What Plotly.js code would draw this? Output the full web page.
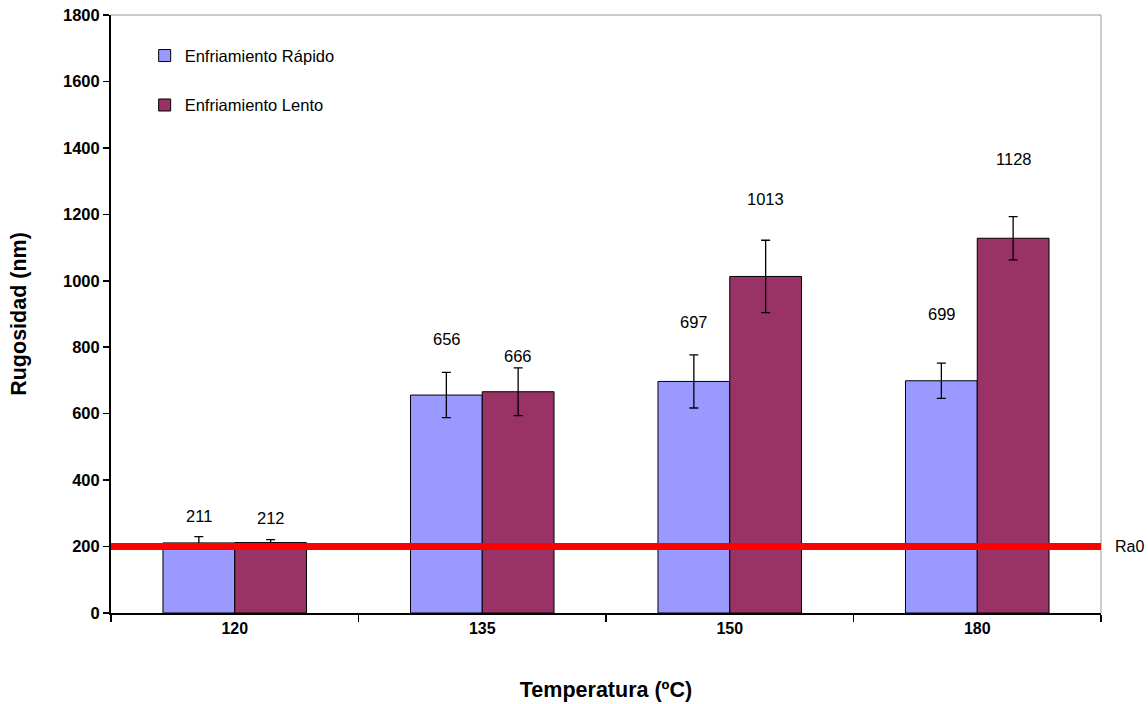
<!DOCTYPE html>
<html>
<head>
<meta charset="utf-8">
<script src="https://cdn.plot.ly/plotly-3.0.1.min.js"></script>
<style>html,body{margin:0;padding:0;background:#fff;}#chart{width:1148px;height:704px;}</style>
</head>
<body>
<div id="chart"></div>
<script>
const categories = ['120', '135', '150', '180'];
const seriesNames = ['Enfriamiento Rápido', 'Enfriamiento Lento'];
const rapido = [211, 656, 697, 699];
const lento = [212, 666, 1013, 1128];
const rapidoErr = [19, 68, 80, 53];
const lentoErr = [9, 72, 109, 65];
const ra0Value = 200;
const ra0Label = 'Ra0';
const yTicks = [0, 200, 400, 600, 800, 1000, 1200, 1400, 1600, 1800];
// pixel offsets of value labels above bar tops (style)
const rapidoLabelShift = [27, 56, 59, 67];
const lentoLabelShift = [25, 36, 77, 79];

const font = 'Arial, "Liberation Sans", sans-serif';

const traces = [
  {
    type: 'bar', name: seriesNames[0], x: categories, y: rapido,
    legendgroup: 'a',
    marker: {color: '#9999ff', line: {color: '#000', width: 1}},
    error_y: {type: 'data', array: rapidoErr, visible: true, color: '#000', thickness: 1.3, width: 4.5},
    hoverinfo: 'x+y'
  },
  {
    type: 'bar', name: seriesNames[1], x: categories, y: lento,
    legendgroup: 'b',
    marker: {color: '#993366', line: {color: '#000', width: 1}},
    error_y: {type: 'data', array: lentoErr, visible: true, color: '#000', thickness: 1.3, width: 4.5},
    hoverinfo: 'x+y'
  }
];

const annotations = [];
categories.forEach((c, i) => {
  annotations.push({x: i, y: rapido[i], xref: 'x', yref: 'y', text: String(rapido[i]), showarrow: false,
    xshift: -35.75, yshift: rapidoLabelShift[i], font: {family: font, size: 16.5, color: '#000'}});
  annotations.push({x: i, y: lento[i], xref: 'x', yref: 'y', text: String(lento[i]), showarrow: false,
    xshift: 35.75, yshift: lentoLabelShift[i], font: {family: font, size: 16.5, color: '#000'}});
});
annotations.push({x: 1.012, y: ra0Value, xref: 'paper', yref: 'y', xanchor: 'left', text: ra0Label, showarrow: false,
  font: {family: font, size: 16, color: '#000'}});

const layout = {
  width: 1148, height: 704,
  margin: {l: 111, r: 47, t: 15, b: 91},
  paper_bgcolor: '#fff', plot_bgcolor: '#fff',
  font: {family: font, color: '#000'},
  barmode: 'group', bargap: 0.42, bargroupgap: 0,
  showlegend: true,
  legend: {x: 0.034, y: 0.961, xanchor: 'left', yanchor: 'top', bgcolor: 'rgba(0,0,0,0)',
    font: {family: font, size: 16.5, color: '#000'}, tracegroupgap: 25, itemwidth: 30},
  xaxis: {
    type: 'category', showgrid: false, zeroline: false,
    showline: true, linecolor: '#000', linewidth: 2,
    ticks: 'outside', tickson: 'boundaries', ticklen: 7, tickwidth: 1.5, tickcolor: '#000',
    tickangle: 0,
    tickfont: {family: font, size: 16, weight: 'bold'},
    title: {text: '<b>Temperatura (ºC)</b>', font: {family: font, size: 21.5}, standoff: 46}
  },
  yaxis: {
    range: [0, 1800], tickvals: yTicks, showgrid: false, zeroline: false,
    showline: true, linecolor: '#000', linewidth: 2,
    ticks: 'outside', ticklen: 6, tickwidth: 1.5, tickcolor: '#000',
    tickfont: {family: font, size: 16.5, weight: 'bold'},
    title: {text: '<b>Rugosidad (nm)</b>', font: {family: font, size: 21.5}, standoff: 30}
  },
  shapes: [
    {type: 'line', xref: 'paper', yref: 'paper', x0: 0, x1: 1, y0: 1, y1: 1, line: {color: '#999', width: 1}, layer: 'below'},
    {type: 'line', xref: 'paper', yref: 'paper', x0: 1, x1: 1, y0: 0, y1: 1, line: {color: '#999', width: 1}, layer: 'below'},
    {type: 'line', xref: 'paper', yref: 'y', x0: 0, x1: 1, y0: ra0Value, y1: ra0Value, line: {color: '#ff0000', width: 7}, layer: 'above'}
  ],
  annotations: annotations
};

Plotly.newPlot('chart', traces, layout, {displayModeBar: false, staticPlot: true});
</script>
</body>
</html>
